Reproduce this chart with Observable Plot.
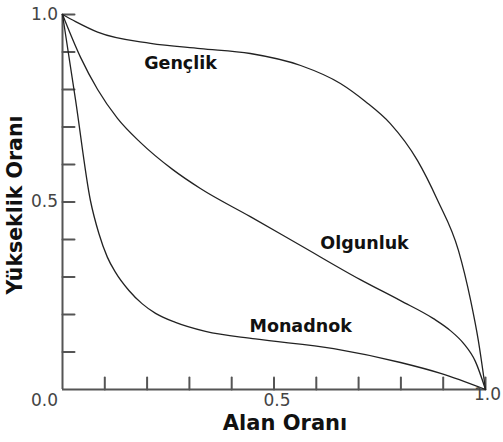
<!DOCTYPE html>
<html><head><meta charset="utf-8">
<script src="https://cdn.jsdelivr.net/npm/d3@7"></script>
<script src="https://cdn.jsdelivr.net/npm/@observablehq/plot@0.6"></script>
<style>body{margin:0;background:#fff;} #chart svg{display:block;}</style>
</head><body><div id="chart"></div>
<script>
// Hypsometric curves: Alan Oranı (x) vs Yükseklik Oranı (y)
const gencX = [0, 0.031, 0.083, 0.208, 0.326, 0.444, 0.563, 0.657, 0.716, 0.775, 0.839, 0.887, 0.936, 0.965, 0.983, 1];
const gencY = [1, 0.981, 0.953, 0.923, 0.909, 0.896, 0.864, 0.816, 0.768, 0.709, 0.611, 0.504, 0.371, 0.237, 0.131, 0];
const olgX = [0, 0.043, 0.083, 0.130, 0.184, 0.260, 0.326, 0.444, 0.563, 0.704, 0.799, 0.877, 0.917, 0.948, 0.976, 1];
const olgY = [1, 0.885, 0.800, 0.723, 0.659, 0.587, 0.536, 0.461, 0.384, 0.293, 0.237, 0.189, 0.157, 0.123, 0.075, 0];
const monX = [0, 0.031, 0.066, 0.086, 0.106, 0.125, 0.157, 0.188, 0.220, 0.267, 0.338, 0.456, 0.641, 0.799, 0.894, 1];
const monY = [1, 0.771, 0.504, 0.416, 0.353, 0.313, 0.264, 0.229, 0.203, 0.179, 0.155, 0.135, 0.109, 0.072, 0.043, 0];

const curveNames = ["Gençlik", "Olgunluk", "Monadnok"];
const labelX = [0.279, 0.714, 0.563];
const labelY = [0.869, 0.389, 0.168];

const minorTicks = [0.1, 0.2, 0.3, 0.4, 0.5, 0.6, 0.7, 0.8, 0.9, 1.0];
const xTickLabels = ["0.0", "0.5", "1.0"];
const xTickValues = [0, 0.5, 1];
const yTickLabels = ["0.5", "1.0"];
const yTickValues = [0.5, 1];
const xTitle = "Alan Oranı";
const yTitle = "Yükseklik Oranı";

const series = [[gencX, gencY], [olgX, olgY], [monX, monY]];
const rows = series.flatMap(([xs, ys], i) => xs.map((x, j) => ({name: curveNames[i], x, y: ys[j]})));
const labels = curveNames.map((n, i) => ({name: n, x: labelX[i], y: labelY[i]}));
const xl = xTickValues.map((v, i) => ({v, t: xTickLabels[i]}));
const yl = yTickValues.map((v, i) => ({v, t: yTickLabels[i]}));

const tickShape = {draw(ctx, l) { ctx.moveTo(0, 0); ctx.lineTo(0, -l); }};
const FONT = "DejaVu Sans, Verdana, sans-serif";

const chart = Plot.plot({
  width: 503, height: 442,
  marginLeft: 62, marginRight: 18, marginTop: 14, marginBottom: 53,
  style: {fontFamily: FONT, background: "#fff"},
  x: {domain: [0, 1], axis: null},
  y: {domain: [0, 1], axis: null},
  marks: [
    Plot.vector(minorTicks, {x: d => d, y: 0, length: 12, rotate: 0, anchor: "start", shape: tickShape, stroke: "#555", strokeWidth: 2}),
    Plot.vector(minorTicks, {x: 0, y: d => d, length: 12, rotate: 90, anchor: "start", shape: tickShape, stroke: "#555", strokeWidth: 2}),
    Plot.ruleX([0], {stroke: "#555", strokeWidth: 2}),
    Plot.ruleY([0], {stroke: "#555", strokeWidth: 2}),
    Plot.line(rows, {x: "x", y: "y", z: "name", curve: "monotone-x", stroke: "#222", strokeWidth: 1.3}),
    Plot.text(labels, {x: "x", y: "y", text: "name", fontWeight: "bold", fontSize: 17.5, fill: "#111"}),
    Plot.text(xl.filter(d => d.v === 0), {x: "v", y: 0, text: "t", dx: -18, dy: 11, fontSize: 17, fill: "#444"}),
    Plot.text(xl.filter(d => d.v === 0.5), {x: "v", y: 0, text: "t", dx: 3, dy: 11, fontSize: 17, fill: "#444"}),
    Plot.text(xl.filter(d => d.v === 1), {x: "v", y: 0, text: "t", dx: 2, dy: 5, fontSize: 17, fill: "#444"}),
    Plot.text(yl, {x: 0, y: "v", text: "t", dx: -18, fontSize: 17, fill: "#444"}),
    Plot.text([xTitle], {frameAnchor: "bottom", textAnchor: "middle", dx: 11, dy: 40, fontSize: 21, fontWeight: "bold", fill: "#111"}),
    Plot.text([yTitle], {frameAnchor: "left", textAnchor: "middle", dx: -47, dy: 3, rotate: -90, fontSize: 20.5, fontWeight: "bold", fill: "#111"})
  ]
});
document.getElementById("chart").append(chart);
</script>
</body></html>
